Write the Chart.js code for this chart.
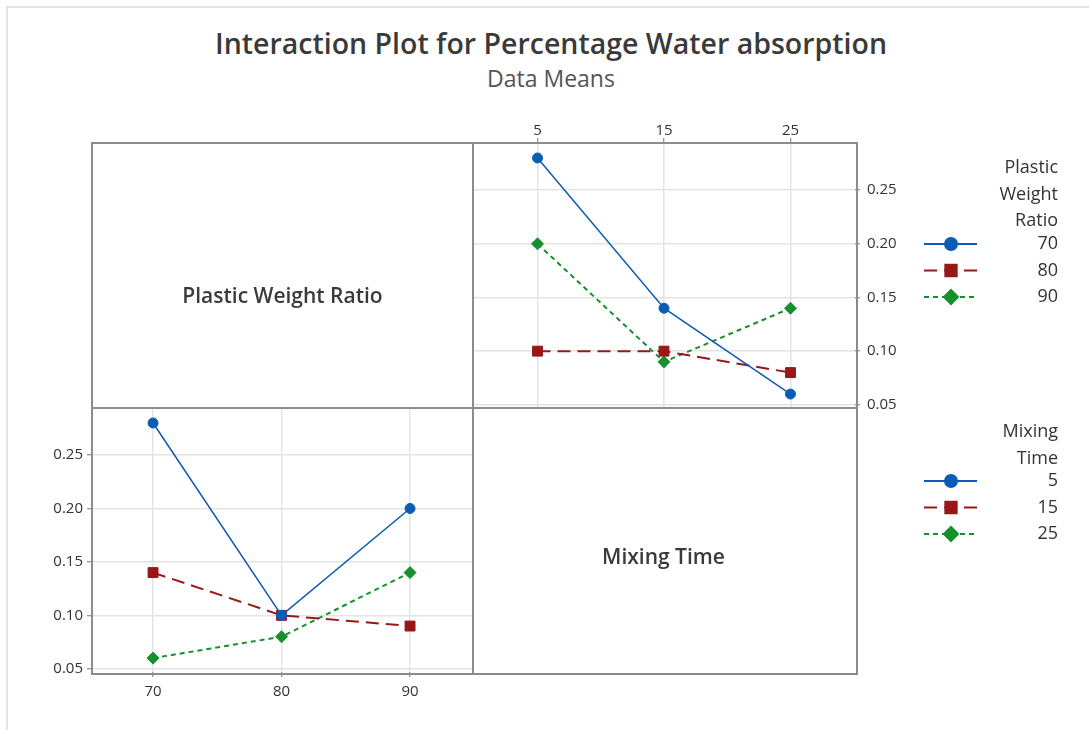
<!DOCTYPE html>
<html>
<head>
<meta charset="utf-8">
<script src="https://cdn.jsdelivr.net/npm/chart.js@4/dist/chart.umd.min.js"></script>
<style>
body { margin:0; background:#fff; }
#page { position:relative; width:1089px; height:730px; overflow:hidden; font-family:"Open Sans", sans-serif; color:#333; }
#page canvas { position:absolute; left:0; top:0; }
.edge { position:absolute; left:6px; top:6px; width:1100px; height:740px; border-left:2px solid #e4e4e4; border-top:2px solid #e4e4e4; }
.title { position:absolute; left:0; width:1102px; text-align:center; top:24px; font-size:28.5px; font-weight:600; color:#3a3a3a; }
.sub { position:absolute; left:0; width:1102px; text-align:center; top:62px; font-size:23px; color:#555; }
.frame { position:absolute; left:91px; top:142px; width:763px; height:529px; border:2px solid #8c8c8c; }
.vline { position:absolute; left:472px; top:142px; width:2px; height:531px; background:#8c8c8c; }
.hline { position:absolute; left:91px; top:407px; width:765px; height:2px; background:#8c8c8c; }
.plab { position:absolute; font-size:21px; font-weight:600; color:#3a3a3a; text-align:center; width:381px; }
</style>
</head>
<body>
<div id="page">
<div class="edge"></div>
<div class="title">Interaction Plot for Percentage Water absorption</div>
<div class="sub">Data Means</div>
<canvas id="topChart" width="1089" height="730"></canvas>
<canvas id="botChart" width="1089" height="730"></canvas>
<div class="frame"></div>
<div class="vline"></div>
<div class="hline"></div>
<div class="plab" style="left:92px; top:281px;">Plastic Weight Ratio</div>
<div class="plab" style="left:473px; top:542px;">Mixing Time</div>
</div>
<script>
const mixingTimes = [5, 15, 25]
const weightRatios = [70, 80, 90]

// top right panel: mean by mixing time, one line per weight ratio
const ratio70 = [0.28, 0.14, 0.06]
const ratio80 = [0.10, 0.10, 0.08]
const ratio90 = [0.20, 0.09, 0.14]

// bottom left panel: mean by weight ratio, one line per mixing time
const time5 = [0.28, 0.10, 0.20]
const time15 = [0.14, 0.10, 0.09]
const time25 = [0.06, 0.08, 0.14]

const yTicks = [0.05, 0.10, 0.15, 0.20, 0.25]

const BLUE = "#0b5cb5"
const RED = "#981818"
const GREEN = "#16902c"
const FONT = {family:"Open Sans", size:15}

function series(label, xs, ys, color, style, radius, dash, width){
  return {
    label: label,
    data: xs.map((x, i) => ({x: x, y: ys[i]})),
    borderColor: color,
    backgroundColor: color,
    pointBackgroundColor: color,
    pointBorderColor: color,
    pointStyle: style,
    pointRadius: radius,
    pointBorderWidth: 1,
    borderWidth: width,
    borderDash: dash
  }
}

function styled(labels, xs, rows){
  return [
    series(labels[0], xs, rows[0], BLUE, "circle", 5, [], 1.5),
    series(labels[1], xs, rows[1], RED, "rect", 7, [13, 7], 2),
    series(labels[2], xs, rows[2], GREEN, "rectRot", 6, [5, 4], 2)
  ]
}

// legend drawn at the right: title lines + line/marker/label entries
const sideLegend = {
  id: "sideLegend",
  afterDraw(chart, args, opts){
    const ctx = chart.ctx
    ctx.save()
    ctx.font = '18px "Open Sans"'
    ctx.textAlign = "right"
    ctx.textBaseline = "middle"
    ctx.fillStyle = "#333"
    let y = opts.titleTop
    opts.title.forEach(t => { ctx.fillText(t, 1058, y); y += 26.5 })
    y = opts.entryTop
    chart.data.datasets.forEach(ds => {
      ctx.strokeStyle = ds.borderColor
      ctx.lineWidth = 2
      ctx.setLineDash(ds.borderDash)
      ctx.beginPath()
      ctx.moveTo(924, y)
      ctx.lineTo(977, y)
      ctx.stroke()
      ctx.setLineDash([])
      ctx.fillStyle = ds.backgroundColor
      Chart.helpers.drawPoint(ctx, {pointStyle: ds.pointStyle, rotation: 0, radius: ds.pointRadius + 1, borderWidth: 1}, 951, y)
      ctx.fillStyle = "#333"
      ctx.fillText(ds.label, 1058, y)
      y += 26.5
    })
    ctx.restore()
  }
}

function axes(xs, xMin, xMax, xPos, yPos, xPad){
  const grid = {color:"#e4e4e4", lineWidth:1.5, tickColor:"#777", tickLength:5, tickWidth:1}
  return {
    x: {
      type: "linear", position: xPos, min: xMin, max: xMax,
      afterBuildTicks: s => { s.ticks = xs.map(v => ({value: v})) },
      afterFit: s => { s.height = 34 },
      grid: grid,
      border: {display: false},
      ticks: {color:"#333", font:FONT, padding:xPad, maxRotation:0}
    },
    y: {
      position: yPos, min: 0.047, max: 0.294,
      afterBuildTicks: s => { s.ticks = yTicks.map(v => ({value: v})) },
      afterFit: s => { s.width = 50 },
      grid: grid,
      border: {display: false},
      ticks: {color:"#333", font:FONT, padding:yPos === "right" ? 7 : 4, callback: v => v.toFixed(2)}
    }
  }
}

new Chart(document.getElementById("topChart"), {
  type: "line",
  data: {datasets: styled(weightRatios.map(String), mixingTimes, [ratio70, ratio80, ratio90])},
  options: {
    responsive: false,
    animation: false,
    layout: {padding: {left: 473, top: 109, right: 184, bottom: 322}},
    scales: axes(mixingTimes, -0.1, 30.1, "top", "right", -2),
    plugins: {
      legend: {display: false},
      tooltip: {enabled: false},
      sideLegend: {title: ["Plastic", "Weight", "Ratio"], titleTop: 168, entryTop: 244}
    }
  },
  plugins: [sideLegend]
})

new Chart(document.getElementById("botChart"), {
  type: "line",
  data: {datasets: styled(mixingTimes.map(String), weightRatios, [time5, time15, time25])},
  options: {
    responsive: false,
    animation: false,
    layout: {padding: {left: 42, top: 408, right: 616, bottom: 24}},
    scales: axes(weightRatios, 65.25, 94.9, "bottom", "left", 6),
    plugins: {
      legend: {display: false},
      tooltip: {enabled: false},
      sideLegend: {title: ["Mixing", "Time"], titleTop: 432, entryTop: 481}
    }
  },
  plugins: [sideLegend]
})
</script>
</body>
</html>
